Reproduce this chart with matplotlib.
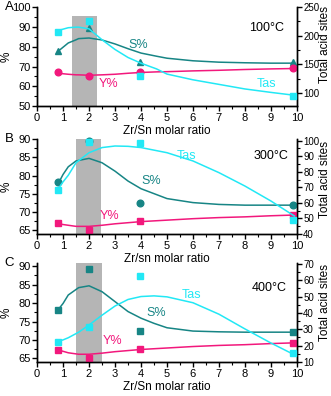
import matplotlib.pyplot as plt
from matplotlib.ticker import MultipleLocator

plt.rcParams['font.family'] = ['Liberation Sans', 'DejaVu Sans']

# Zr/Sn molar ratios of the samples
ratio = [0.8, 2.0, 3.95, 9.85]

# --- 100 C -------------------------------------------------------------------
s_100 = [78.0, 89.5, 72.5, 72.2]
y_100 = [67.2, 65.1, 67.4, 69.1]
tas_100 = [206, 225, 129, 95]
fit_x_100 = [0.8, 1.2, 1.5, 1.6, 2.0, 2.5, 3.0, 3.5, 4.0, 4.6, 5.0, 6.0, 7.0, 8.0, 9.0, 9.9]
fit_s_100 = [77.6, 81.9, 83.5, 84.1, 84.4, 83.4, 81.4, 79.0, 76.8, 75.2, 74.2, 72.9, 72.2, 71.9, 71.7, 71.7]
fit_y_100 = [66.6, 66.1, 65.8, 65.8, 65.6, 65.8, 66.1, 66.6, 67.0, 67.3, 67.4, 67.8, 68.1, 68.5, 68.8, 69.0]
fit_tas_100 = [209, 214, 215, 215, 212, 193, 176, 162, 152, 142, 133, 123, 115, 107, 101, 96]

# --- 300 C -------------------------------------------------------------------
s_300 = [78.1, 89.4, 72.6, 72.0]
y_300 = [67.1, 65.1, 67.6, 69.2]
tas_300 = [68.3, 99.0, 98.2, 49.0]
fit_x_300 = [0.8, 1.0, 1.2, 1.5, 2.0, 2.5, 3.0, 3.5, 4.0, 5.0, 6.0, 7.0, 8.0, 9.0, 9.9]
fit_s_300 = [77.6, 80.3, 82.4, 84.0, 84.7, 83.5, 81.2, 78.5, 76.4, 73.7, 72.6, 72.1, 71.9, 71.9, 71.9]
fit_y_300 = [66.9, 66.6, 66.4, 66.1, 66.1, 66.4, 66.8, 67.1, 67.4, 67.8, 68.2, 68.5, 68.7, 69.0, 69.2]
fit_tas_300 = [68.7, 73.5, 77.7, 85.8, 92.2, 95.5, 96.5, 96.3, 95.5, 92.2, 86.9, 79.4, 70.8, 61.2, 51.6]

# --- 400 C -------------------------------------------------------------------
s_400 = [78.1, 89.2, 72.5, 72.1]
y_400 = [67.3, 65.2, 67.5, 69.1]
tas_400 = [22.2, 31.6, 62.8, 15.2]
fit_x_400 = [0.8, 1.0, 1.2, 1.6, 2.0, 2.5, 3.0, 3.5, 4.0, 4.5, 5.0, 6.0, 7.0, 8.0, 9.0, 9.9]
fit_s_400 = [78.1, 79.9, 82.2, 84.2, 84.7, 83.1, 80.4, 77.7, 75.9, 74.5, 73.3, 72.4, 72.2, 72.1, 72.1, 72.1]
fit_y_400 = [67.3, 66.9, 66.5, 66.1, 66.1, 66.4, 66.8, 67.1, 67.4, 67.6, 67.8, 68.2, 68.5, 68.7, 69.0, 69.2]
fit_tas_400 = [22.6, 23.5, 24.8, 28.2, 32.6, 38.6, 44.2, 48.2, 50.0, 50.4, 49.8, 46.2, 39.2, 30.2, 21.6, 14.4]

TEAL = '#178585'
PINK = '#f2187c'
CYAN = '#22e8f5'
GREY = '#b5b5b5'

panels = [
    dict(tag='A', temp='100\u00b0C', xlabel='Zr/Sn molar ratio',
         s=s_100, y=y_100, tas=tas_100, fx=fit_x_100, fs=fit_s_100, fy=fit_y_100, ft=fit_tas_100,
         s_mk='^', y_mk='o', t_mk='s',
         ylim=(50, 100), ymaj=10, ymin=5, y2lim=(77, 250), y2maj=50, y2min=25,
         span=(1.35, 2.3), span_top=95.5,
         pos=[0.112, 0.732, 0.785, 0.25], r_lab_y=0.62,
         s_txt=(3.9, 81.0), y_txt=(2.75, 61.0), t_txt=(8.83, 61.0), temp_txt=(8.83, 89.5)),
    dict(tag='B', temp='300\u00b0C', xlabel='Zr/sn molar ratio',
         s=s_300, y=y_300, tas=tas_300, fx=fit_x_300, fs=fit_s_300, fy=fit_y_300, ft=fit_tas_300,
         s_mk='o', y_mk='s', t_mk='s',
         ylim=(64, 90), ymaj=5, ymin=2.5, y2lim=(40, 101), y2maj=10, y2min=5,
         span=(1.5, 2.46), span_top=90,
         pos=[0.112, 0.409, 0.785, 0.240], r_lab_y=0.57,
         s_txt=(4.4, 78.5), y_txt=(2.8, 68.9), t_txt=(5.75, 85.3), temp_txt=(9.0, 85.3)),
    dict(tag='C', temp='400\u00b0C', xlabel='Zr/Sn molar ratio',
         s=s_400, y=y_400, tas=tas_400, fx=fit_x_400, fs=fit_s_400, fy=fit_y_400, ft=fit_tas_400,
         s_mk='s', y_mk='s', t_mk='s',
         ylim=(64, 90.9), ymaj=5, ymin=2.5, y2lim=(10, 70.5), y2maj=10, y2min=5,
         span=(1.5, 2.5), span_top=90.9,
         pos=[0.112, 0.0859, 0.785, 0.25], r_lab_y=0.6,
         s_txt=(4.58, 77.4), y_txt=(2.9, 69.8), t_txt=(5.95, 82.2), temp_txt=(8.94, 84.0)),
]

fig = plt.figure(figsize=(3.31, 3.96), dpi=100)

for p in panels:
    ax = fig.add_axes(p['pos'])
    ax2 = ax.twinx()

    ax.axvspan(p['span'][0], p['span'][1], ymin=0,
               ymax=(p['span_top'] - p['ylim'][0]) / (p['ylim'][1] - p['ylim'][0]),
               color=GREY, lw=0, zorder=0)

    ax.plot(p['fx'], p['fs'], color=TEAL, lw=1.1, zorder=2)
    ax.plot(p['fx'], p['fy'], color=PINK, lw=1.1, zorder=2)
    ax.plot(ratio, p['s'], p['s_mk'], color=TEAL, ms=4.8, zorder=3, clip_on=False)
    ax.plot(ratio, p['y'], p['y_mk'], color=PINK, ms=4.8, zorder=3, clip_on=False)

    ax2.plot(p['fx'], p['ft'], color=CYAN, lw=1.1, zorder=2)
    ax2.plot(ratio, p['tas'], p['t_mk'], color=CYAN, ms=4.8, zorder=3, clip_on=False)

    ax.set_xlim(0, 10)
    ax.set_ylim(*p['ylim'])
    ax2.set_ylim(*p['y2lim'])

    ax.xaxis.set_major_locator(MultipleLocator(1))
    ax.xaxis.set_minor_locator(MultipleLocator(0.5))
    ax.yaxis.set_major_locator(MultipleLocator(p['ymaj']))
    ax.yaxis.set_minor_locator(MultipleLocator(p['ymin']))
    ax2.yaxis.set_major_locator(MultipleLocator(p['y2maj']))
    ax2.yaxis.set_minor_locator(MultipleLocator(p['y2min']))

    for a in (ax, ax2):
        a.spines['top'].set_visible(False)
        for sp in a.spines.values():
            sp.set_linewidth(1.0)
        a.tick_params(which='major', direction='out', length=3.5, width=1.0, labelsize=8, pad=1.2)
        a.tick_params(which='minor', direction='out', length=2, width=0.8)
    ax2.tick_params(which='major', labelsize=7, pad=1.0)

    ax.set_ylabel('%', fontsize=8.5)
    ax.yaxis.set_label_coords(-0.095, 0.5)
    ax2.set_ylabel('Total acid sites', fontsize=8.5)
    ax2.yaxis.set_label_coords(1.086, p['r_lab_y'])
    ax.set_xlabel(p['xlabel'], fontsize=8.5, labelpad=1.5)

    ax.text(*p['s_txt'], 'S%', color=TEAL, fontsize=9, ha='center', va='center', zorder=5)
    ax.text(*p['y_txt'], 'Y%', color=PINK, fontsize=9, ha='center', va='center', zorder=5)
    ax2.text(p['t_txt'][0], p['t_txt'][1], 'Tas', color=CYAN, fontsize=9, ha='center', va='center',
             zorder=5, transform=ax.transData)
    ax2.text(p['temp_txt'][0], p['temp_txt'][1], p['temp'], color='black', fontsize=9,
             ha='center', va='center', zorder=5, transform=ax.transData)

    ax.text(-0.125, 1.0, p['tag'], transform=ax.transAxes, fontsize=9.5, ha='left', va='center')

fig.savefig('out.png', dpi=100)
